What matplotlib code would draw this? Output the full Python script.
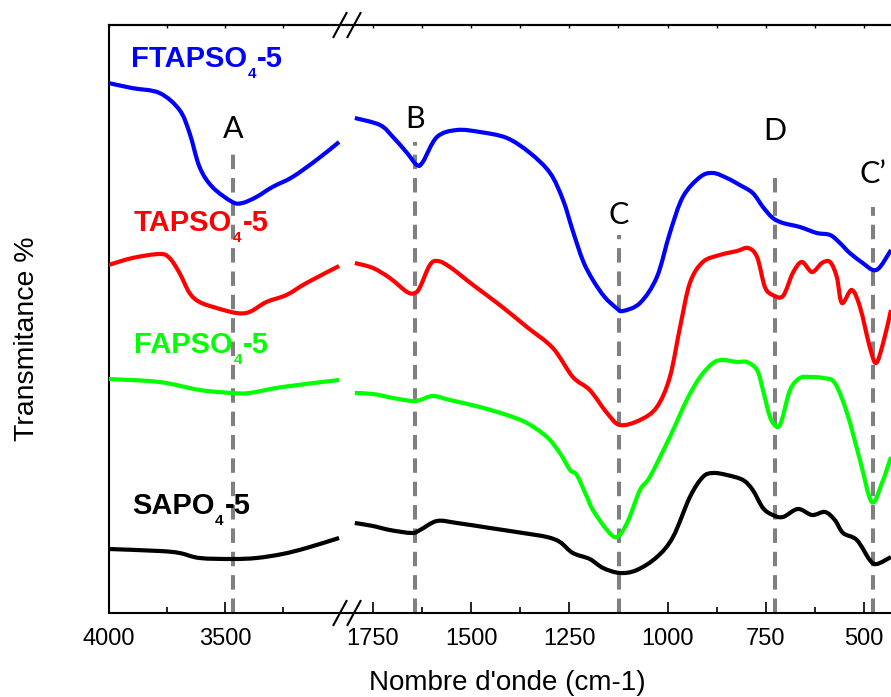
import matplotlib
matplotlib.use("Agg")
import numpy as np
import matplotlib.pyplot as plt
from matplotlib.lines import Line2D
from matplotlib.path import Path
from matplotlib.patches import PathPatch
from matplotlib.ticker import FixedLocator, MultipleLocator, NullLocator
from matplotlib import transforms

plt.rcParams["font.family"] = ["Liberation Sans", "DejaVu Sans"]

# ---- FTIR spectra (wavenumber in cm-1, transmittance in offset arbitrary units) ----
# high-wavenumber window (4000-3000)
FTAPSO_HI_WN = [4000, 3900, 3781, 3695, 3652, 3609, 3554, 3468, 3425, 3365, 3296, 3210, 3107, 3010]
FTAPSO_HI_T = [530, 525, 520, 503, 480, 446, 426, 411, 410, 416, 426, 436, 453, 471]
TAPSO_HI_WN = [4000, 3897, 3781, 3738, 3695, 3652, 3609, 3536, 3451, 3395, 3322, 3236, 3150, 3010]
TAPSO_HI_T = [348, 355, 359, 355, 340, 320, 311, 305, 300, 301, 311, 318, 330, 347]
FAPSO_HI_WN = [4000, 3781, 3609, 3468, 3395, 3253, 3010]
FAPSO_HI_T = [234, 231, 223, 220, 220, 226, 233]
SAPO_HI_WN = [4000, 3781, 3695, 3609, 3468, 3365, 3253, 3150, 3010]
SAPO_HI_T = [64, 62, 60, 55, 54, 55, 59, 65, 75]

# low-wavenumber window (1800-430)
FTAPSO_LO_WN = [1796, 1732, 1699, 1663, 1638, 1623, 1587, 1536, 1478, 1409, 1350, 1299, 1266,
                1241, 1215, 1190, 1160, 1130, 1114, 1070, 1027, 994, 961, 917, 884, 849, 816,
                783, 757, 732, 706, 663, 620, 586, 561, 536, 503, 477, 459, 431]
FTAPSO_LO_T = [495, 488, 476, 460, 448, 451, 476, 483, 481, 475, 460, 440, 413,
               382, 352, 333, 316, 305, 302, 310, 336, 380, 416, 436, 440, 435, 428,
               420, 406, 395, 390, 386, 380, 378, 370, 360, 350, 343, 346, 363]
TAPSO_LO_WN = [1796, 1750, 1707, 1663, 1643, 1630, 1605, 1585, 1554, 1495, 1427, 1358, 1292,
               1241, 1198, 1154, 1121, 1070, 1027, 994, 968, 943, 910, 867, 823, 795, 772,
               752, 732, 706, 681, 658, 632, 607, 586, 569, 556, 531, 510, 485, 469, 451, 431]
TAPSO_LO_T = [350, 345, 335, 321, 320, 326, 348, 352, 346, 328, 308, 286, 265,
              236, 223, 200, 188, 193, 206, 236, 286, 330, 351, 358, 362, 365, 356,
              326, 318, 317, 340, 351, 341, 350, 351, 336, 310, 323, 306, 266, 250, 270, 303]
FAPSO_LO_WN = [1796, 1750, 1699, 1651, 1630, 1597, 1554, 1478, 1409, 1358, 1307, 1274, 1248,
               1231, 1205, 1190, 1154, 1129, 1103, 1070, 1045, 994, 951, 917, 884, 859, 823,
               798, 772, 757, 739, 721, 709, 688, 663, 637, 604, 574, 543, 510, 480, 454, 431]
FAPSO_LO_T = [220, 219, 215, 212, 213, 217, 213, 206, 198, 190, 176, 160, 143,
              138, 116, 103, 83, 76, 90, 123, 136, 176, 213, 236, 250, 253, 251,
              251, 243, 223, 196, 186, 193, 223, 235, 236, 235, 230, 200, 153, 111, 130, 156]
SAPO_LO_WN = [1796, 1750, 1707, 1651, 1630, 1587, 1536, 1452, 1368, 1307, 1274, 1241, 1198,
              1164, 1121, 1078, 1027, 986, 943, 910, 884, 849, 808, 783, 757, 732, 706,
              668, 632, 599, 574, 553, 518, 485, 467, 431]
SAPO_LO_T = [90, 87, 83, 80, 83, 92, 90, 85, 80, 76, 71, 60, 54,
             45, 40, 43, 56, 76, 116, 136, 140, 138, 133, 123, 105, 98, 96,
             104, 98, 101, 93, 80, 73, 53, 49, 56]

# sample names split as (formula, subscript, suffix)
SAMPLES = [("FTAPSO", "4", "-5"), ("TAPSO", "4", "-5"), ("FAPSO", "4", "-5"), ("SAPO", "4", "-5")]
COLORS = ["#0000FF", "#FF0000", "#00FF00", "#000000"]
LABEL_POS = [(3905, 546), (3890, 382), (3890, 260), (3900, 99)]

# band assignments: label, wavenumber, top of the guide line, label baseline
BANDS = ["A", "B", "C", "D", "C\u2019"]
BAND_WN = [3466, 1643, 1124, 727, 477]
BAND_TOP = [466, 471, 378, 438, 406]
BAND_TEXT_Y = [475, 485, 389, 473, 430]

HI = [(FTAPSO_HI_WN, FTAPSO_HI_T), (TAPSO_HI_WN, TAPSO_HI_T),
      (FAPSO_HI_WN, FAPSO_HI_T), (SAPO_HI_WN, SAPO_HI_T)]
LO = [(FTAPSO_LO_WN, FTAPSO_LO_T), (TAPSO_LO_WN, TAPSO_LO_T),
      (FAPSO_LO_WN, FAPSO_LO_T), (SAPO_LO_WN, SAPO_LO_T)]

W, H = 891, 697
fig = plt.figure(figsize=(W / 100, H / 100), dpi=100)

x0, xb, x1 = 108.5, 347.0, 891.0
ybot, ytop = 613.0, 25.0
axL = fig.add_axes([x0 / W, (H - ybot) / H, (xb - x0) / W, (ybot - ytop) / H])
axR = fig.add_axes([xb / W, (H - ybot) / H, (x1 - xb) / W, (ybot - ytop) / H])

axL.set_xlim(4000, 2976)
axR.set_xlim(1816, 431)
axL.xaxis.set_major_locator(FixedLocator([4000, 3500]))
axL.xaxis.set_minor_locator(FixedLocator([3750, 3250]))
axR.xaxis.set_major_locator(MultipleLocator(250))
axR.xaxis.set_minor_locator(MultipleLocator(125))
for ax in (axL, axR):
    ax.set_ylim(0, 588)
    ax.yaxis.set_major_locator(NullLocator())
    for s in ax.spines.values():
        s.set_linewidth(1.5)
    ax.spines["right"].set_visible(False)
    ax.tick_params(axis="x", which="major", direction="in", length=8, width=1.2,
                   labelsize=17, pad=10.5, top=False)
    ax.tick_params(axis="x", which="minor", direction="in", length=4, width=1.2, top=False)
    sec = ax.secondary_xaxis("top")
    sec.xaxis.set_major_locator(ax.xaxis.get_major_locator())
    sec.xaxis.set_minor_locator(ax.xaxis.get_minor_locator())
    sec.tick_params(which="both", direction="in", length=2.5, width=1.0, labeltop=False)
    sec.spines["top"].set_linewidth(1.5)
axR.spines["left"].set_visible(False)


def smooth_path(xs, ys):
    """Cubic Bezier path passing through every (x, y) point (Catmull-Rom tangents)."""
    p = np.column_stack([xs, ys]).astype(float)
    ext = np.vstack([p[0], p, p[-1]])
    verts = [p[0]]
    codes = [Path.MOVETO]
    for i in range(len(p) - 1):
        a, b, c, d = ext[i], ext[i + 1], ext[i + 2], ext[i + 3]
        verts += [b + (c - a) / 6.0, c - (d - b) / 6.0, c]
        codes += [Path.CURVE4] * 3
    return Path(np.array(verts), codes)


# spectra
for ax, group in ((axL, HI), (axR, LO)):
    for (wn, t), c in zip(group, COLORS):
        ax.add_patch(PathPatch(smooth_path(wn, t), facecolor="none", edgecolor=c,
                               lw=3.0, joinstyle="round", capstyle="butt", zorder=3))

# sample names with a dropped subscript
fig.canvas.draw()
renderer = fig.canvas.get_renderer()
for (base, sub, suf), c, (xw, yt) in zip(SAMPLES, COLORS, LABEL_POS):
    xoff = 0.0
    for s, size, dy in ((base, 21, 0), (sub, 11, -11), (suf, 21, 0)):
        tr = transforms.offset_copy(axL.transData, fig=fig, x=xoff, y=dy, units="dots")
        t = axL.text(xw, yt, s, color=c, fontsize=size, fontweight="bold",
                     ha="left", va="baseline", transform=tr, zorder=5)
        xoff += t.get_window_extent(renderer).width + (1.5 if s == sub else 0.5)

# band guide lines and letters
for lab, wn, top, ty in zip(BANDS, BAND_WN, BAND_TOP, BAND_TEXT_Y):
    ax = axL if wn > 2000 else axR
    ax.plot([wn, wn], [0, top], color="#808080", lw=2.9, dashes=(3.6, 2.2), zorder=2)
    ax.text(wn, ty, lab, ha="center", va="baseline", fontsize=22,
            family=["Lato", "DejaVu Sans"], color="black", zorder=5)


# axis break marks
def brk(xc, yc):
    for dx in (-7, 7):
        fig.add_artist(Line2D([(xc + dx - 6.5) / W, (xc + dx + 6.5) / W],
                              [(H - yc - 12) / H, (H - yc + 12) / H],
                              color="black", lw=1.5))


brk(xb, ybot)
brk(xb, ytop)

fig.text(507 / W, (H - 683) / H, "Nombre d'onde (cm-1)", ha="center", va="center", fontsize=20)
fig.text(27 / W, (H - 339) / H, "Transmitance %", ha="center", va="center",
         rotation=90, fontsize=20.5)

fig.savefig("out.png", dpi=100)
